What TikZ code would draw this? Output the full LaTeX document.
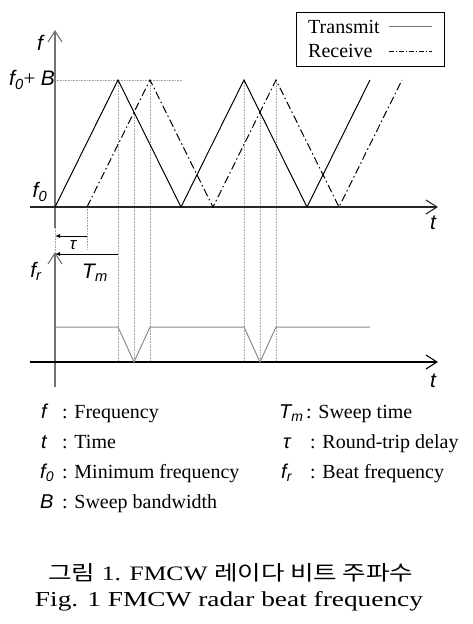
\documentclass[tikz,border=0pt]{standalone}
\usepackage{fontspec}
\setmainfont{Liberation Serif}
\newfontfamily\symfont{Liberation Sans}
\newfontfamily\krfont{Noto Sans CJK KR}
\usepackage{tikz}
\usetikzlibrary{arrows.meta}

\newcommand{\sym}[1]{{\symfont\itshape #1}}
\newcommand{\symsub}[2]{{\symfont\itshape #1\textsubscript{#2}}}

\begin{document}
\begin{tikzpicture}[x = 1pt, y = -1pt, font = \fontsize{20}{24}\selectfont,
		axis/.style = {line width = 1.1pt, -{Straight Barb[length=11pt, width=14pt]}},
		guide/.style = {black!35, line width = 0.6pt, densely dotted},
		tx/.style = {line width = 1pt},
		rx/.style = {line width = 1pt, dash pattern = on 8pt off 3pt on 1.5pt off 3pt},
		beat/.style = {black!45, line width = 1pt},
		lbl/.style = {font = \fontsize{21}{24}\selectfont, inner sep = 0pt}]
					\def\xO{55};
					\def\yT{207};
					\def\yB{362};
					\def\yP{80};
					\def\yR{327};

					\useasboundingbox (0,0) rectangle (473,624);

					% guides
					\begin{scope}[guide]
						\draw (\xO,\yP) -- (183,\yP);
						\draw (87,\yT) -- (87,250);
						\draw (\xO,228) -- (\xO,252);
						\foreach \x in {0,126}
						{
							\draw[xshift = \x] (118,\yP) -- (118,\yB);
							\draw[xshift = \x] (134,112) -- (134,\yB);
							\draw[xshift = \x] (150,\yP) -- (150,\yB);
						}
					\end{scope}

					% axes
					\draw[axis, black!55] (\xO,228) -- (\xO,30);
					\draw[axis, black!85] (30,\yT) -- (438,\yT);
					\draw[axis, black!55] (\xO,387) -- (\xO,252);
					\draw[axis] (30,\yB) -- (438,\yB);

					\node[lbl] (f) at (40,43) {\sym{f}};
					\node[lbl] (fB) at (32,80) {\symsub{f}{0}+ \sym{B}};
					\node[lbl] (f0) at (40,192) {\symsub{f}{0}};
					\node[lbl] (t1) at (433,223) {\sym{t}};
					\node[lbl] (fr) at (36,271) {\symsub{f}{r}};
					\node[lbl] (t2) at (433,381) {\sym{t}};

					% transmit and receive
					\draw[tx] (\xO,\yT) -- (118,\yP) -- (181,\yT) -- (244,\yP) -- (307,\yT) -- (370,\yP);
					\draw[rx] (87,\yT) -- (150,\yP) -- (213,\yT) -- (276,\yP) -- (339,\yT) -- (402,\yP);

					% beat frequency
					\draw[beat] (\xO,\yR) -- (118,\yR) -- (134,\yB) -- (150,\yR) -- (244,\yR) -- (260,\yB) -- (276,\yR) -- (370,\yR);

					% delay and sweep time
					\coordinate (tauR) at (87,236);
					\coordinate (tauL) at (\xO,236);
					\coordinate (TmR) at (118,254);
					\coordinate (TmL) at (\xO,254);
					\draw[line width = 0.9pt, -{Latex[length=5pt, width=4pt]}] (tauR) -- (tauL);
					\draw[line width = 0.9pt, -{Latex[length=5pt, width=4pt]}] (TmR) -- (TmL);
					\node[lbl, font = \fontsize{17}{18}\selectfont] (tau) at (73,245) {\sym{τ}};
					\node[lbl] (Tm) at (95,273) {\symsub{T}{m}};

					% legend box
					\draw[line width = 1pt] (296,12) rectangle (444,66);
					\node[anchor = west, inner sep = 0pt] (tr) at (308,27) {Transmit};
					\node[anchor = west, inner sep = 0pt] (re) at (308,51) {Receive};
					\draw[black!55, line width = 1pt] (389,26) -- (432,26);
					\draw[line width = 0.8pt, dash pattern = on 5pt off 2pt on 1pt off 2pt] (389,51) -- (432,51);

					% symbols
					\begin{scope}[every node/.style = {anchor = base west, inner sep = 0pt}]
						\node (s1) at (41,418) {\sym{f}};
						\node (d1) at (62,418) {: Frequency};
						\node (s2) at (41,448) {\sym{t}};
						\node (d2) at (62,448) {: Time};
						\node (s3) at (40,478) {\symsub{f}{0}};
						\node (d3) at (62,478) {: Minimum frequency};
						\node (s4) at (40,508) {\sym{B}};
						\node (d4) at (62,508) {: Sweep bandwidth};

						\node (s5) at (279,418) {\symsub{T}{m}};
						\node (d5) at (306,418) {: Sweep time};
						\node (s6) at (283,448) {\sym{τ}};
						\node (d6) at (310,448) {: Round-trip delay};
						\node (s7) at (281,478) {\symsub{f}{r}};
						\node (d7) at (310,478) {: Beat frequency};
					\end{scope}

					% caption
					\node (capK) at (231,573) {\resizebox{365pt}{17pt}{{\krfont 그림} 1. FMCW {\krfont 레이다 비트 주파수}}};
					\node (capE) at (229,601) {\resizebox{388pt}{15pt}{Fig. 1 FMCW radar beat frequency}};
				\end{tikzpicture}
\end{document}
